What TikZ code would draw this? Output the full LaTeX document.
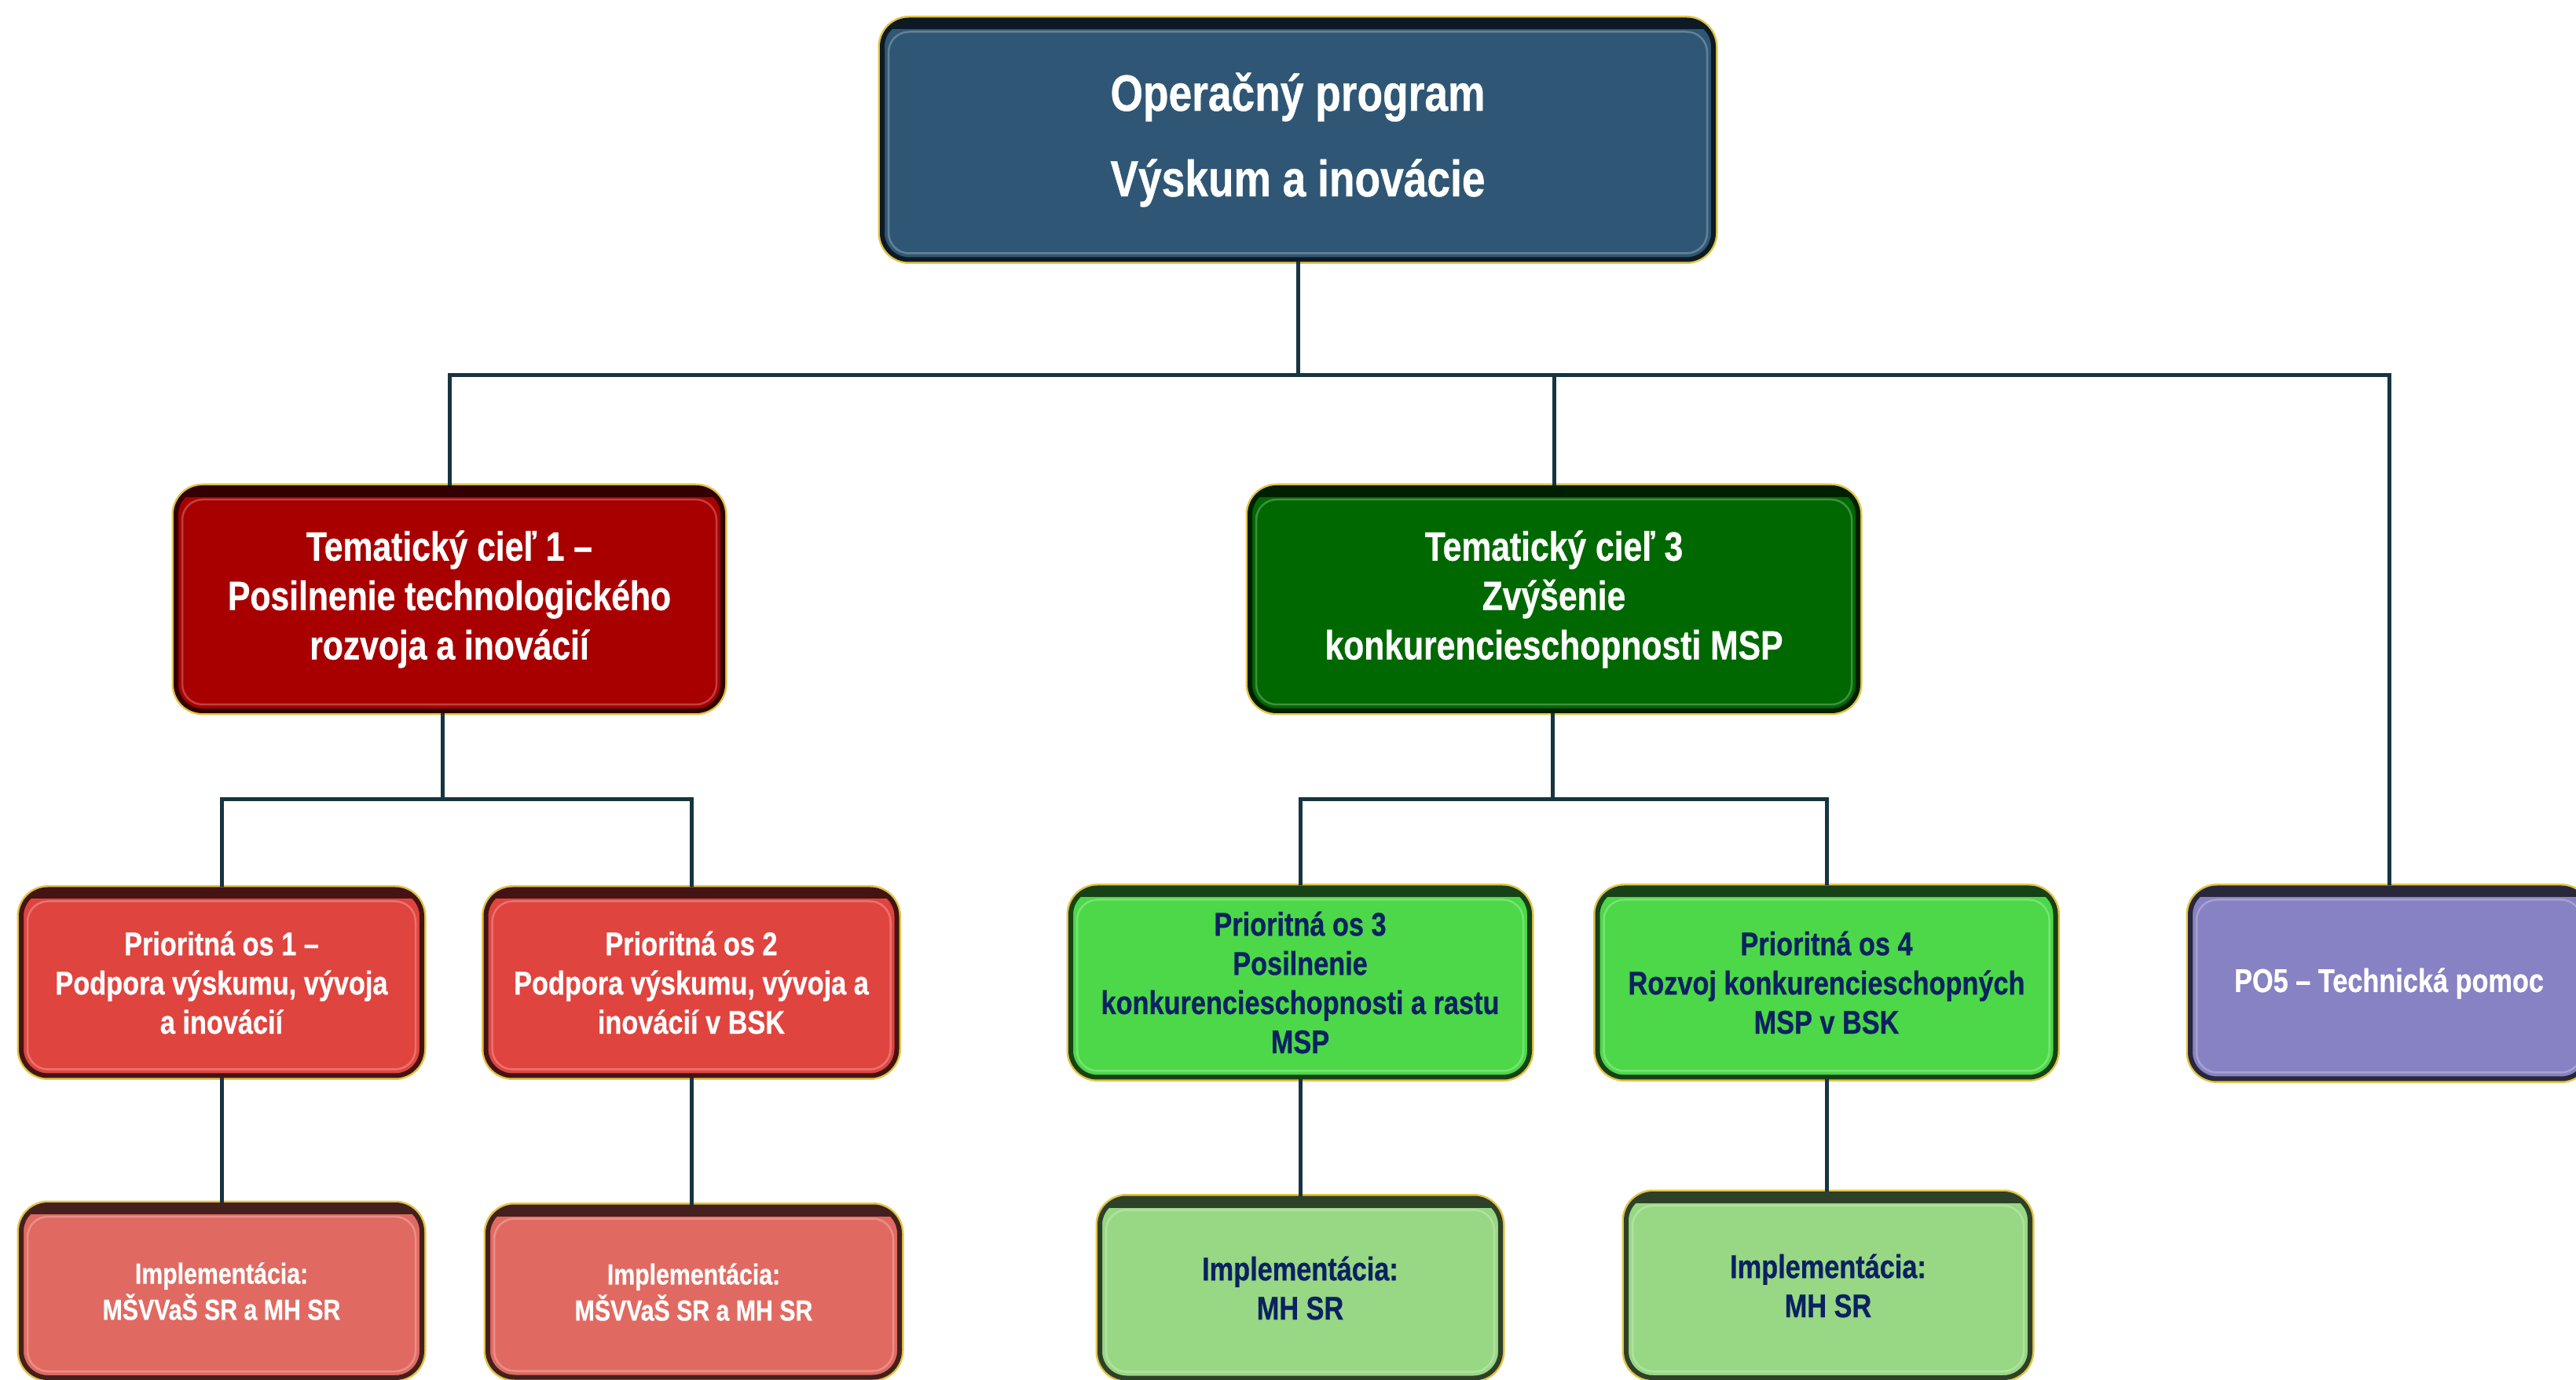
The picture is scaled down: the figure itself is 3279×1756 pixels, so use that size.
\documentclass[tikz,border=0pt]{standalone}
\usepackage{fontspec}
\setmainfont{Liberation Sans}[FakeStretch=0.82, BoldFeatures={FakeBold=0.6}]
\usetikzlibrary{positioning}
\definecolor{topblue}{RGB}{47,87,117}
\definecolor{tcred}{RGB}{168,0,0}
\definecolor{tcgreen}{RGB}{0,104,0}
\definecolor{pored}{RGB}{224,68,63}
\definecolor{pogreen}{RGB}{76,216,72}
\definecolor{popurple}{RGB}{135,130,195}
\definecolor{imred}{RGB}{224,106,97}
\definecolor{imgreen}{RGB}{152,215,132}
\definecolor{navy}{RGB}{11,33,97}
\definecolor{wire}{RGB}{23,52,65}
\definecolor{glow}{RGB}{226,196,70}
\tikzset{
  tile/.style={draw=#1!30!black, fill=#1, line width=0.6mm, rounded corners=3.4mm,
    align=center, inner sep=0pt,
    preaction={draw=glow, line width=1.1mm},
    path picture={
      \fill[#1!30!black, sharp corners] (path picture bounding box.north west) rectangle ([yshift=-1.2mm]path picture bounding box.north east);
      \draw[#1!75!white, line width=0.25mm, rounded corners=2.6mm] ([shift={(0.8mm,0.8mm)}]path picture bounding box.south west) rectangle ([shift={(-0.8mm,-1.5mm)}]path picture bounding box.north east);
    }},
  fontA/.style={font=\bfseries\fontsize{18.5pt}{31pt}\selectfont},
  fontB/.style={font=\bfseries\fontsize{14.8pt}{17.9pt}\selectfont},
  fontC/.style={font=\bfseries\fontsize{11.9pt}{14.2pt}\selectfont},
  fontD/.style={font=\bfseries\fontsize{10.5pt}{13.1pt}\selectfont},
  wire/.style={draw=wire, line width=0.5mm},
}
\begin{document}
\begin{tikzpicture}[x=0.1mm, y=0.1mm]
	\useasboundingbox (0,0) rectangle (3279,1756);
	\clip (0,0) rectangle (3279,1756);
	\coordinate (bus0) at (1652,1278);
	\coordinate (bus1) at (563,738);
	\coordinate (bus2) at (1976,738);

	\node[tile=topblue, fontA, text=white, minimum width=105.8mm, minimum height=30.5mm] (op) at (1652,1578) {\raisebox{-0.5mm}{Operačný program}\\\raisebox{-0.5mm}{Výskum a inovácie}};

	\node[tile=tcred, fontB, text=white, minimum width=69.6mm, minimum height=28.4mm] (tc1) at (572,993) {Tematický cieľ 1 –\\Posilnenie technologického\\rozvoja a inovácií};
	\node[tile=tcgreen, fontB, text=white, minimum width=77.4mm, minimum height=28.4mm] (tc3) at (1978,993) {Tematický cieľ 3\\Zvýšenie\\konkurencieschopnosti MSP};

	\node[tile=pored, fontC, text=white, minimum width=51mm, minimum height=23.7mm] (po1) at (282,505) {Prioritná os 1 –\\Podpora výskumu, vývoja\\a inovácií};
	\node[tile=pored, fontC, text=white, minimum width=52.3mm, minimum height=23.7mm] (po2) at (880,505) {Prioritná os 2\\Podpora výskumu, vývoja a\\inovácií v BSK};
	\node[tile=pogreen, fontC, text=navy, minimum width=58.4mm, minimum height=24.1mm] (po3) at (1655,505) {Prioritná os 3\\Posilnenie\\konkurencieschopnosti a rastu\\MSP};
	\node[tile=pogreen, fontC, text=navy, minimum width=58.3mm, minimum height=24.1mm] (po4) at (2325,505) {Prioritná os 4\\Rozvoj konkurencieschopných\\MSP v BSK};
	\node[tile=popurple, fontC, text=white, minimum width=50.6mm, minimum height=24.3mm] (po5) at (3041,504) {PO5 – Technická pomoc};

	\node[tile=imred, fontD, text=white, minimum width=51mm, minimum height=22mm] (im1) at (282,112) {Implementácia:\\MŠVVaŠ SR a MH SR};
	\node[tile=imred, fontD, text=white, minimum width=52.4mm, minimum height=21.7mm] (im2) at (883,111) {Implementácia:\\MŠVVaŠ SR a MH SR};
	\node[tile=imgreen, fontC, text=navy, minimum width=51mm, minimum height=22.9mm] (im3) at (1655,116) {Implementácia:\\MH SR};
	\node[tile=imgreen, fontC, text=navy, minimum width=51.4mm, minimum height=23.4mm] (im4) at (2327,119) {Implementácia:\\MH SR};

	\draw[wire] (op.south) -- (bus0);
	\draw[wire] (tc1.north) |- (bus0) -| (po5.north);
	\draw[wire] (tc3.north) -- (tc3.north |- bus0);
	\draw[wire] (bus1 |- tc1.south) -- (bus1);
	\draw[wire] (po1.north) |- (bus1) -| (po2.north);
	\draw[wire] (bus2 |- tc3.south) -- (bus2);
	\draw[wire] (po3.north) |- (bus2) -| (po4.north);
	\draw[wire] (po1.south) -- (im1.north);
	\draw[wire] (po2.south) -- (po2.south |- im2.north);
	\draw[wire] (po3.south) -- (im3.north);
	\draw[wire] (po4.south) -- (po4.south |- im4.north);
\end{tikzpicture}
\end{document}
